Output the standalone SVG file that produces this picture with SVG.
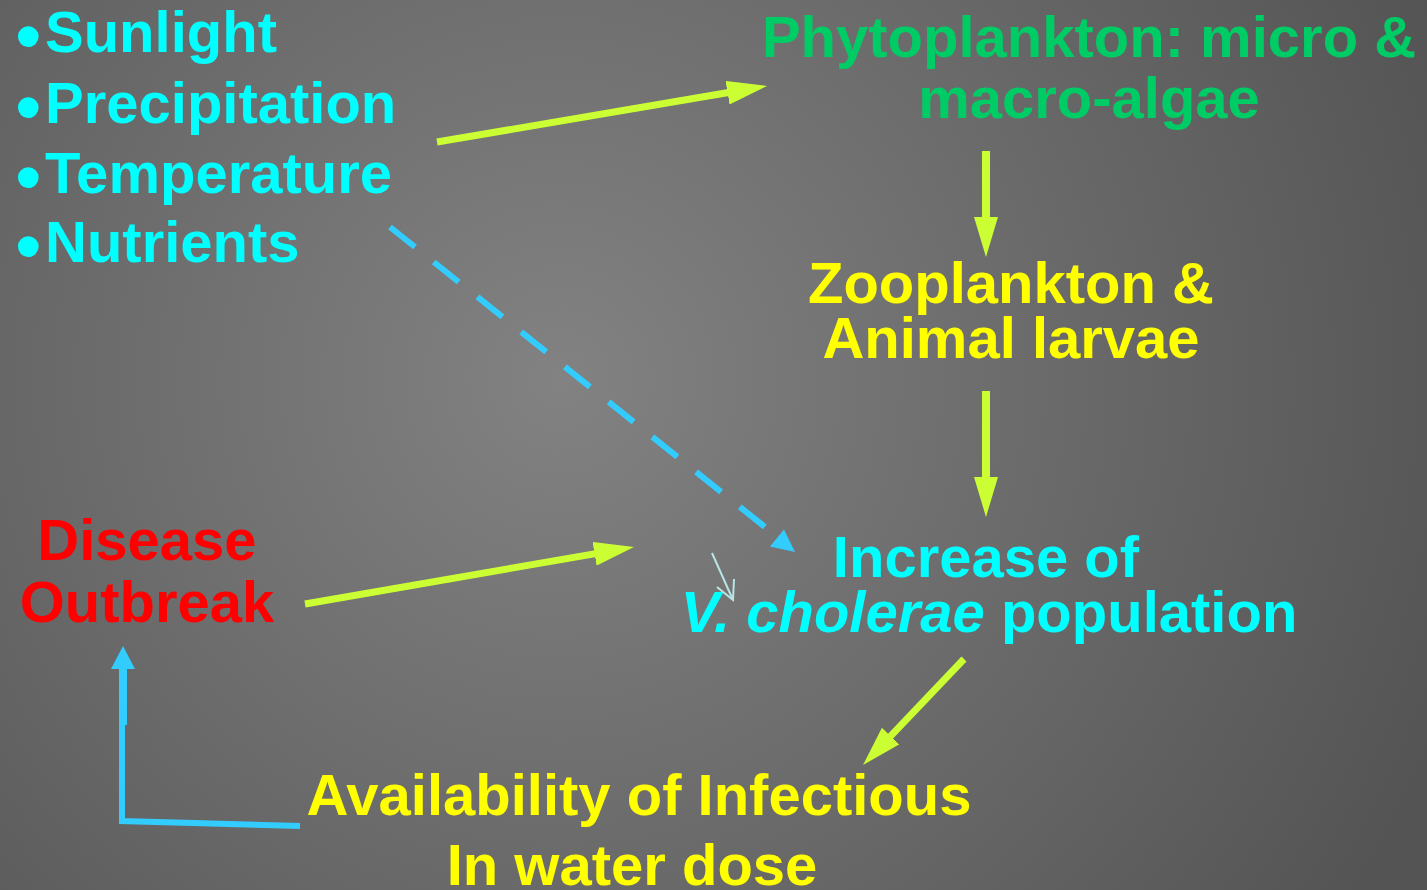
<svg xmlns="http://www.w3.org/2000/svg" width="1427" height="890" viewBox="0 0 1427 890">
  <defs>
    <radialGradient id="bg" gradientUnits="userSpaceOnUse" cx="560" cy="380" r="950">
      <stop offset="0" stop-color="#828282"/>
      <stop offset="1" stop-color="#545454"/>
    </radialGradient>
    <marker id="gh" viewBox="0 0 40 24" markerWidth="40" markerHeight="24" refX="10" refY="12" orient="auto" markerUnits="userSpaceOnUse">
      <path d="M0,0 L40,12 L0,24 Z" fill="#CCFF33"/>
    </marker>
    <style>
      .t { font-family: "Liberation Sans", Arial, sans-serif; font-weight: bold; font-size: 58px; }
      .b { font-weight: normal; font-size: 76px; }
      .cyan { fill: #00FFFF; }
      .yel { fill: #FFFF00; }
      .grn { fill: #00CC66; }
      .red { fill: #FF0000; }
      .ga { stroke: #CCFF33; stroke-width: 7; fill: none; marker-end: url(#gh); }
      .gv { stroke: #CCFF33; stroke-width: 8; fill: none; marker-end: url(#gh); }
      .blue { stroke: #33CCFF; fill: none; }
    </style>
  </defs>
  <rect width="1427" height="890" fill="url(#bg)"/>

  <g id="factors">
    <text class="t cyan" x="15" y="52"><tspan class="b" dy="10">•</tspan><tspan x="45" dy="-10">Sunlight</tspan></text>
    <text class="t cyan" x="15" y="123"><tspan class="b" dy="10">•</tspan><tspan x="45" dy="-10">Precipitation</tspan></text>
    <text class="t cyan" x="15" y="193"><tspan class="b" dy="10">•</tspan><tspan x="45" dy="-10">Temperature</tspan></text>
    <text class="t cyan" x="15" y="262"><tspan class="b" dy="10">•</tspan><tspan x="45" dy="-10">Nutrients</tspan></text>
  </g>
  <g id="phytoplankton">
    <text class="t grn" x="1089" y="57" text-anchor="middle">Phytoplankton: micro &amp;</text>
    <text class="t grn" x="1089" y="118" text-anchor="middle">macro-algae</text>
  </g>
  <g id="zooplankton">
    <text class="t yel" x="1011" y="303" text-anchor="middle">Zooplankton &amp;</text>
    <text class="t yel" x="1011" y="358" text-anchor="middle">Animal larvae</text>
  </g>
  <g id="vcholerae">
    <text class="t cyan" x="986" y="577" text-anchor="middle">Increase of</text>
    <text class="t cyan" x="989" y="632" text-anchor="middle"><tspan font-style="italic">V. cholerae</tspan> population</text>
  </g>
  <g id="disease">
    <text class="t red" x="147" y="560" text-anchor="middle">Disease</text>
    <text class="t red" x="147" y="622" text-anchor="middle">Outbreak</text>
  </g>
  <g id="availability">
    <text class="t yel" x="639" y="815" text-anchor="middle">Availability of Infectious</text>
    <text class="t yel" x="632" y="885" text-anchor="middle">In water dose</text>
  </g>

  <g id="connectors">
    <line class="ga" x1="437" y1="142" x2="737.4" y2="91"/>
    <line class="gv" x1="986" y1="151" x2="986" y2="227"/>
    <line class="gv" x1="986" y1="391" x2="986" y2="487"/>
    <line class="ga" x1="964" y1="659" x2="883.7" y2="743.3"/>
    <line class="ga" x1="305" y1="604" x2="604.4" y2="552.1"/>

    <line class="blue" stroke-width="6" stroke-dasharray="32 24" x1="390" y1="227" x2="765" y2="527"/>
    <polygon points="795,552 770,546.6 784,529.4" fill="#33CCFF"/>

    <polyline class="blue" stroke-width="6" points="300,826 122,821 122,668"/>
    <rect x="119" y="665" width="8" height="60" fill="#33CCFF"/>
    <polygon points="123,646 111,669 135,669" fill="#33CCFF"/>

    <line x1="712" y1="553" x2="733" y2="600" stroke="#B8E4E4" stroke-width="2"/>
    <polyline points="717,587 733,600 734,579" fill="none" stroke="#B8E4E4" stroke-width="2"/>
  </g>
</svg>
